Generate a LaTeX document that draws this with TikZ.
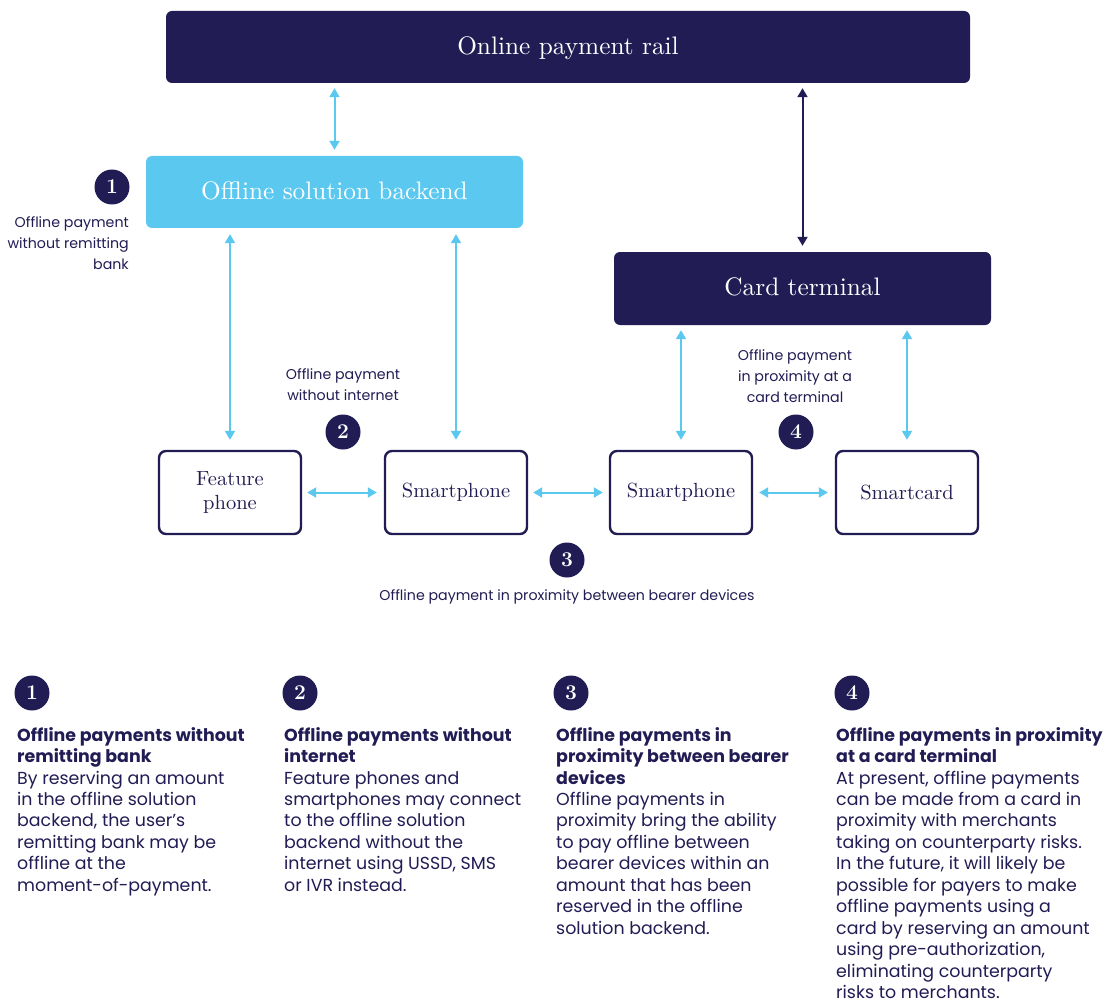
\documentclass[tikz,border=0pt]{standalone}
\usepackage{fontspec}
\usetikzlibrary{arrows.meta,calc}
\newfontfamily\lblfont{Poppins}
\newfontfamily\boxfont{lmroman10-regular}[Extension=.otf]
\definecolor{navy}{RGB}{33,28,84}
\definecolor{sky}{RGB}{91,200,239}
\tikzset{
  darkbox/.style={draw=none,fill=navy,rounded corners=6pt,text=white,font=\boxfont\fontsize{25.3}{28}\selectfont,text depth=3pt},
  lightbox/.style={draw=none,fill=sky,rounded corners=6pt,text=white,font=\boxfont\fontsize{25.3}{28}\selectfont,text depth=3pt},
  devbox/.style={draw=navy,line width=2.4pt,fill=white,rounded corners=7pt,minimum width=142pt,minimum height=83pt,text=navy,align=center,font=\boxfont\fontsize{20.5}{23.5}\selectfont},
  numc/.style={circle,fill=navy,text=white,minimum size=35pt,inner sep=0pt,font=\fontsize{21}{21}\selectfont\bfseries},
  lbl/.style={text=navy,font=\lblfont\fontsize{14.2}{21}\selectfont,inner sep=0pt},
  col/.style={text=navy,font=\lblfont\fontsize{17.4}{21.45}\selectfont,inner sep=0pt,align=left,anchor=north west},
  barrow/.style={draw=sky,line width=2pt,{Triangle[length=9pt,width=10pt]}-{Triangle[length=9pt,width=10pt]}},
  narrow/.style={draw=navy,line width=2pt,{Triangle[length=9pt,width=10pt]}-{Triangle[length=9pt,width=10pt]}},
}
\begin{document}
\begin{tikzpicture}[x=1pt,y=-1pt]
\useasboundingbox[fill=white] (0,0) rectangle (1103,1003);
% main boxes
\node[darkbox,minimum width=804pt,minimum height=72pt] (rail) at (568,47) {Online payment rail};
\node[lightbox,minimum width=377pt,minimum height=72pt] (backend) at (334.5,192) {Offline solution backend};
\node[darkbox,minimum width=377pt,minimum height=73pt] (ct) at (802.5,288.5) {Card terminal};
% devices
\node[devbox] (fp) at (230,492.5) {Feature\\phone};
\node[devbox] (sp1) at (456,492.5) {Smartphone};
\node[devbox] (sp2) at (681,492.5) {Smartphone};
\node[devbox] (sc) at (907,492.5) {Smartcard};
% connectors
\draw[barrow,shorten <=6pt,shorten >=5pt] (backend.north) -- (rail.south -| backend.north);
\draw[narrow,shorten <=6pt,shorten >=5pt] (ct.north) -- (rail.south -| ct.north);
\draw[barrow,shorten <=6pt,shorten >=10pt] (fp.north |- backend.south) -- (fp.north);
\draw[barrow,shorten <=6pt,shorten >=10pt] (sp1.north |- backend.south) -- (sp1.north);
\draw[barrow,shorten <=5pt,shorten >=10pt] (sp2.north |- ct.south) -- (sp2.north);
\draw[barrow,shorten <=5pt,shorten >=10pt] (sc.north |- ct.south) -- (sc.north);
\draw[barrow,shorten <=5pt,shorten >=7pt] (fp.east) -- (sp1.west);
\draw[barrow,shorten <=5pt,shorten >=6pt] (sp1.east) -- (sp2.west);
\draw[barrow,shorten <=6pt,shorten >=7pt] (sp2.east) -- (sc.west);
% numbered circles in diagram
\node[numc] (n1) at (112,187) {1};
\node[numc] (n2) at (343,432) {2};
\node[numc] (n4) at (796,432) {4};
\node[numc] (n3) at (567,560) {3};
% labels
\node[lbl,align=right,anchor=north east] (l1) at (129,216) {Offline payment\\without remitting\\bank};
\node[lbl,align=center,anchor=north] (l2) at (343,368) {Offline payment\\without internet};
\node[lbl,align=center,anchor=north] (l4) at (795,349) {Offline payment\\in proximity at a\\card terminal};
\node[lbl,align=center,anchor=north] (l3) at (567,589) {Offline payment in proximity between bearer devices};
% bottom legend
\node[numc] (b1) at (32,693) {1};
\node[numc] (b2) at (300,693) {2};
\node[numc] (b3) at (571,693) {3};
\node[numc] (b4) at (852,693) {4};
\node[col] (t1) at (17,727) {\textbf{Offline payments without}\\\textbf{remitting bank}\\By reserving an amount\\in the offline solution\\backend, the user’s\\remitting bank may be\\offline at the\\moment-of-payment.};
\node[col] (t2) at (284,727) {\textbf{Offline payments without}\\\textbf{internet}\\Feature phones and\\smartphones may connect\\to the offline solution\\backend without the\\internet using USSD, SMS\\or IVR instead.};
\node[col] (t3) at (556,727) {\textbf{Offline payments in}\\\textbf{proximity between bearer}\\\textbf{devices}\\Offline payments in\\proximity bring the ability\\to pay offline between\\bearer devices within an\\amount that has been\\reserved in the offline\\solution backend.};
\node[col] (t4) at (836,727) {\textbf{Offline payments in proximity}\\\textbf{at a card terminal}\\At present, offline payments\\can be made from a card in\\proximity with merchants\\taking on counterparty risks.\\In the future, it will likely be\\possible for payers to make\\offline payments using a\\card by reserving an amount\\using pre-authorization,\\eliminating counterparty\\risks to merchants.};
\end{tikzpicture}
\end{document}
